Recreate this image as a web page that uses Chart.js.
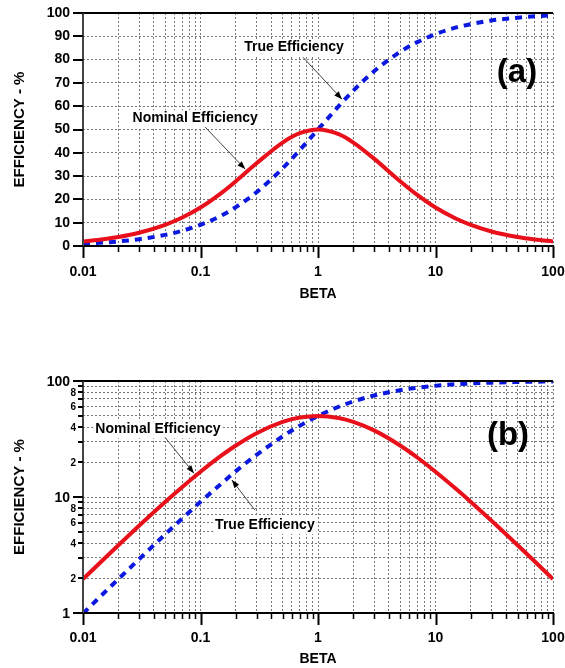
<!DOCTYPE html>
<html>
<head>
<meta charset="utf-8">
<script src="https://cdn.jsdelivr.net/npm/chart.js@4.4.0/dist/chart.umd.min.js"></script>
<style>
  body { margin: 0; background: #fff; width: 565px; height: 668px; position: relative; overflow: hidden; }
  canvas { position: absolute; left: 0; }
  #chartA { top: 0; }
  #chartB { top: 358px; }
</style>
</head>
<body>
<canvas id="chartA" width="565" height="310"></canvas>
<canvas id="chartB" width="565" height="310"></canvas>
<script>
// valores
const beta = [0.01, 0.015, 0.02, 0.03, 0.05, 0.07, 0.1, 0.15, 0.2, 0.3, 0.5, 0.7, 1,
              1.5, 2, 3, 5, 7, 10, 15, 20, 30, 50, 70, 100];
const nominalEff = [1.96, 2.91, 3.84, 5.66, 9.07, 12.2, 16.5, 22.7, 27.8, 35.5, 44.4, 48.4, 50,
                    48.0, 44.4, 37.5, 27.8, 21.9, 16.5, 11.7, 9.07, 6.24, 3.84, 2.78, 1.96];
const trueEff = [0.99, 1.48, 1.96, 2.91, 4.76, 6.54, 9.09, 13.0, 16.7, 23.1, 33.3, 41.2, 50,
                 60.0, 66.7, 75.0, 83.3, 87.5, 90.9, 93.8, 95.2, 96.8, 98.0, 98.6, 99.0];

const xDecades = [0.01, 0.1, 1, 10, 100];
const xDecadeLabels = ['0.01', '0.1', '1', '10', '100'];
const yLinTicks = [0, 10, 20, 30, 40, 50, 60, 70, 80, 90, 100];
const yLogTicks = [1, 2, 3, 4, 5, 6, 7, 8, 9, 10, 20, 30, 40, 50, 60, 70, 80, 90, 100];
const yLogLabels = ['1', '2', '', '4', '', '6', '', '8', '', '10', '2', '', '4', '', '6', '', '8', '', '100'];

const FONT = '"Liberation Sans", Arial, sans-serif';
const RED = '#e8101a';
const BLUE = '#0a18e0';

// grade do eixo x: 1..9 em cada decada
const xGrid = [];
xDecades.forEach((d, i) => {
    if (i === xDecades.length - 1) { xGrid.push(d); return; }
    for (let m = 1; m <= 9; m++) xGrid.push(+(d * m).toPrecision(3));
});

const isDecade = v => Math.abs(Math.log10(v) - Math.round(Math.log10(v))) < 1e-6;

function seta(ctx, x0, y0, x1, y1) {
    ctx.strokeStyle = '#444';
    ctx.lineWidth = 1;
    ctx.setLineDash([]);
    ctx.beginPath(); ctx.moveTo(x0, y0); ctx.lineTo(x1, y1); ctx.stroke();
    const ang = Math.atan2(y1 - y0, x1 - x0);
    ctx.fillStyle = '#000';
    ctx.beginPath();
    ctx.moveTo(x1, y1);
    ctx.lineTo(x1 - 8 * Math.cos(ang) + 3 * Math.sin(ang), y1 - 8 * Math.sin(ang) - 3 * Math.cos(ang));
    ctx.lineTo(x1 - 8 * Math.cos(ang) - 3 * Math.sin(ang), y1 - 8 * Math.sin(ang) + 3 * Math.cos(ang));
    ctx.closePath(); ctx.fill();
}

const moldura = {
    id: 'moldura',
    afterDraw(chart, args, opts) {
        const { ctx, chartArea: a, scales: { x, y } } = chart;
        ctx.save();
        ctx.setLineDash([]);
        // bordas
        ctx.strokeStyle = '#000'; ctx.lineWidth = 2;
        ctx.beginPath(); ctx.moveTo(a.left - 10, a.top); ctx.lineTo(a.right, a.top); ctx.stroke();
        ctx.beginPath(); ctx.moveTo(a.left - 1, a.bottom); ctx.lineTo(a.right + 1, a.bottom); ctx.stroke();
        ctx.strokeStyle = '#444';
        ctx.beginPath(); ctx.moveTo(a.left, a.top); ctx.lineTo(a.left, a.bottom + 1); ctx.stroke();

        // marcas do eixo x
        ctx.strokeStyle = '#000';
        x.ticks.forEach(t => {
            const px = Math.round(x.getPixelForValue(t.value)) + 0.5;
            const major = isDecade(t.value);
            ctx.lineWidth = major ? 2 : 1.5;
            ctx.beginPath(); ctx.moveTo(px, a.bottom); ctx.lineTo(px, a.bottom + (major ? 12 : 6)); ctx.stroke();
        });

        // marcas do eixo y
        y.ticks.forEach(t => {
            const py = Math.round(y.getPixelForValue(t.value));
            const major = opts.logY ? isDecade(t.value) : true;
            ctx.lineWidth = 2;
            ctx.beginPath(); ctx.moveTo(a.left - (major ? 10 : 5), py); ctx.lineTo(a.left, py); ctx.stroke();
        });

        // rotulos do eixo y logaritmico
        if (opts.logY) {
            ctx.fillStyle = '#000';
            ctx.textAlign = 'right';
            ctx.textBaseline = 'middle';
            yLogTicks.forEach((v, i) => {
                if (!yLogLabels[i]) return;
                const major = isDecade(v);
                ctx.font = 'bold ' + (major ? 14 : 10) + 'px ' + FONT;
                ctx.fillText(yLogLabels[i], a.left - (major ? 13 : 7), y.getPixelForValue(v) + 1);
            });
        }

        // anotacoes
        ctx.font = 'bold 14px ' + FONT;
        ctx.textAlign = 'center';
        ctx.textBaseline = 'middle';
        opts.notas.forEach(n => {
            const px = x.getPixelForValue(n.beta);
            const py = y.getPixelForValue(n.valor);
            const tx = px + n.rotulo[0], ty = py + n.rotulo[1];
            const w = ctx.measureText(n.texto).width;
            ctx.fillStyle = '#fff';
            ctx.fillRect(tx - w / 2 - 2, ty - 8, w + 4, 17);
            seta(ctx, px + n.cauda[0], py + n.cauda[1], px, py);
            ctx.fillStyle = '#000';
            ctx.fillText(n.texto, tx, ty);
        });

        // letra do painel
        ctx.font = 'bold 33px ' + FONT;
        ctx.fillText(opts.letra, a.right - opts.letraPos[0], a.top + opts.letraPos[1]);
        ctx.restore();
    }
};

function montarGrafico(id, cfg) {
    const tituloFonte = { family: FONT, size: 14, weight: 'bold' };
    return new Chart(document.getElementById(id), {
        type: 'line',
        data: {
            datasets: [{
                data: beta.map((b, i) => ({ x: b, y: nominalEff[i] })),
                borderColor: RED,
                borderWidth: 4,
                pointRadius: 0,
                cubicInterpolationMode: 'monotone'
            }, {
                data: beta.map((b, i) => ({ x: b, y: trueEff[i] })),
                borderColor: BLUE,
                borderWidth: 4,
                borderDash: [7, 6],
                pointRadius: 0,
                cubicInterpolationMode: 'monotone'
            }]
        },
        options: {
            responsive: false,
            animation: false,
            layout: { padding: { top: cfg.padTop, right: 12, left: 0, bottom: 0 } },
            plugins: {
                legend: { display: false },
                tooltip: { enabled: false },
                moldura: cfg.moldura
            },
            scales: {
                x: {
                    type: 'logarithmic',
                    min: 0.01, max: 100,
                    afterBuildTicks: s => { s.ticks = xGrid.map(v => ({ value: v })); },
                    afterFit: s => { s.height = cfg.xHeight; s.paddingLeft = 0; s.paddingRight = 0; },
                    grid: { color: '#777', lineWidth: 1, drawTicks: false },
                    border: { display: false, dash: [2, 2] },
                    ticks: {
                        autoSkip: false,
                        maxRotation: 0,
                        padding: cfg.xPad,
                        color: '#000',
                        font: { family: FONT, size: 14, weight: 'bold' },
                        callback: v => {
                            const i = xDecades.findIndex(d => Math.abs(d - v) / d < 1e-6);
                            return i >= 0 ? xDecadeLabels[i] : '';
                        }
                    },
                    title: { display: true, text: 'BETA', color: '#000', font: tituloFonte, padding: { top: 0, bottom: cfg.titlePad } }
                },
                y: cfg.y
            }
        },
        plugins: [moldura]
    });
}

const yTitulo = { display: true, text: 'EFFICIENCY - %', color: '#000',
    font: { family: FONT, size: 15, weight: 'bold' }, padding: { top: 11, bottom: 0 } };
const yFit = s => { s.width = 83; s.paddingTop = 0; s.paddingBottom = 0; };

montarGrafico('chartA', {
    padTop: 13, xHeight: 64, xPad: 18, titlePad: 7,
    y: {
        type: 'linear', min: 0, max: 100,
        afterBuildTicks: s => { s.ticks = yLinTicks.map(v => ({ value: v })); },
        afterFit: yFit,
        grid: { color: '#777', lineWidth: 1, drawTicks: false },
        border: { display: false, dash: [2, 2] },
        ticks: { padding: 13, color: '#000', font: { family: FONT, size: 14, weight: 'bold' } },
        title: yTitulo
    },
    moldura: {
        logY: false,
        letra: '(a)', letraPos: [36, 60],
        notas: [
            { texto: 'Nominal Efficiency', beta: 0.24, valor: 33, cauda: [-40, -42], rotulo: [-50, -51] },
            { texto: 'True Efficiency', beta: 1.6, valor: 63, cauda: [-39, -42], rotulo: [-48, -52] }
        ]
    }
});

montarGrafico('chartB', {
    padTop: 23, xHeight: 55, xPad: 17, titlePad: 0,
    y: {
        type: 'logarithmic', min: 1, max: 100,
        afterBuildTicks: s => { s.ticks = yLogTicks.map(v => ({ value: v })); },
        afterFit: yFit,
        grid: { color: '#777', lineWidth: 1, drawTicks: false },
        border: { display: false, dash: [2, 2] },
        ticks: { display: false },
        title: yTitulo
    },
    moldura: {
        logY: true,
        letra: '(b)', letraPos: [45, 55],
        notas: [
            { texto: 'Nominal Efficiency', beta: 0.088, valor: 16, cauda: [-29, -36], rotulo: [-36, -44] },
            { texto: 'True Efficiency', beta: 0.185, valor: 14, cauda: [23, 30], rotulo: [33, 45] }
        ]
    }
});
</script>
</body>
</html>
